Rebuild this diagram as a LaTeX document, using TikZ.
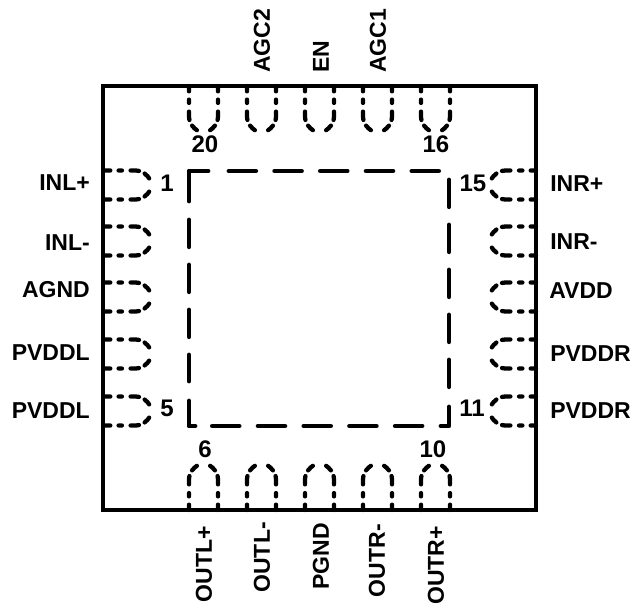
\documentclass[tikz,border=0pt]{standalone}
\usepackage{fontspec}
\setmainfont{Liberation Sans}
\usetikzlibrary{positioning}

\tikzset{
  label/.style={font=\fontsize{17.25}{17.25}\selectfont\bfseries,inner sep=0pt},
  pinno/.style={font=\fontsize{18}{18}\selectfont\bfseries,inner sep=0pt},
  legline/.style={line width=3.2pt,line cap=round,dash pattern=on 4pt off 6.2pt on 2.5pt off 6.5pt on 6.3pt off 4.7pt on 5pt},
  padline/.style={line width=3.7pt,line cap=round,line join=round},
  pics/pad/.style={code={
    \draw[legline] (-14.5,0) -- (-14.5,30) .. controls (-14.5,38) and (-10,42) .. (-5.5,45)
                   (14.5,0) -- (14.5,30) .. controls (14.5,38) and (10,42) .. (5.5,45);
  }},
}

\begin{document}
\begin{tikzpicture}[x=0.75pt,y=-0.75pt]
  \useasboundingbox (0,0) rectangle (633,604);

  % thermal pad
  \draw[padline] (208,171) -- (189,171) -- (189,201);
  \draw[padline,dash pattern=on 20pt off 14.3pt] (229,171) -- (440,171);
  \draw[padline,dash pattern=on 20pt off 13.75pt] (449,180) -- (449,388);
  \draw[padline] (449,407) -- (449,426) -- (441,426);
  \draw[padline,dash pattern=on 20pt off 14.3pt] (422,426) -- (211,426);
  \draw[padline] (189,401) -- (189,426) -- (195,426);
  \draw[padline,dash pattern=on 20pt off 13.75pt] (189,220) -- (189,381);

  % pins along each side
  \foreach \x in {203.5,261.5,319.5,377.5,435.5} {
    \pic[rotate=0] at (\x,86) {pad};
    \pic[rotate=180] at (\x,510) {pad};
  }
  \foreach \y in {185,241,297,354,411} {
    \pic[rotate=90] at (105,\y) {pad};
    \pic[rotate=-90] at (536,\y) {pad};
  }

  % package outline
  \draw[line width=3.3pt,line join=miter] (103,86) rectangle (536,510);

  % left names
  \node[label,anchor=east] (inlp) at (90,183) {INL+};
  \node[label,anchor=east] (inln) at (90,243) {INL-};
  \node[label,anchor=east] (agnd) at (90,290) {AGND};
  \node[label,anchor=east] (pvddla) at (90,353) {PVDDL};
  \node[label,anchor=east] (pvddlb) at (90,411) {PVDDL};

  % right names
  \node[label,anchor=west] (inrp) at (550,184) {INR+};
  \node[label,anchor=west] (inrn) at (550,242) {INR-};
  \node[label,anchor=west] (avdd) at (549,291) {AVDD};
  \node[label,anchor=west] (pvddra) at (550,354) {PVDDR};
  \node[label,anchor=west] (pvddrb) at (550,411) {PVDDR};

  % top names
  \node[label,rotate=90,anchor=west] (agc2) at (262,73) {AGC2};
  \node[label,rotate=90,anchor=west] (en) at (321,73) {EN};
  \node[label,rotate=90,anchor=west] (agc1) at (378,73) {AGC1};

  % bottom names
  \node[label,rotate=90,anchor=east] (outlp) at (204,526) {OUTL+};
  \node[label,rotate=90,anchor=east] (outln) at (262,522) {OUTL-};
  \node[label,rotate=90,anchor=east] (pgnd) at (321,523) {PGND};
  \node[label,rotate=90,anchor=east] (outrn) at (377,524) {OUTR-};
  \node[label,rotate=90,anchor=east] (outrp) at (436,526) {OUTR+};

  % pin numbers
  \node[pinno] (n1) at (167,183) {1};
  \node[pinno] (n5) at (167,408) {5};
  \node[pinno] (n6) at (205,449) {6};
  \node[pinno] (n10) at (433,449) {10};
  \node[pinno] (n11) at (472,408) {11};
  \node[pinno] (n15) at (473,183) {15};
  \node[pinno] (n16) at (436,144) {16};
  \node[pinno] (n20) at (205,144) {20};
\end{tikzpicture}
\end{document}
